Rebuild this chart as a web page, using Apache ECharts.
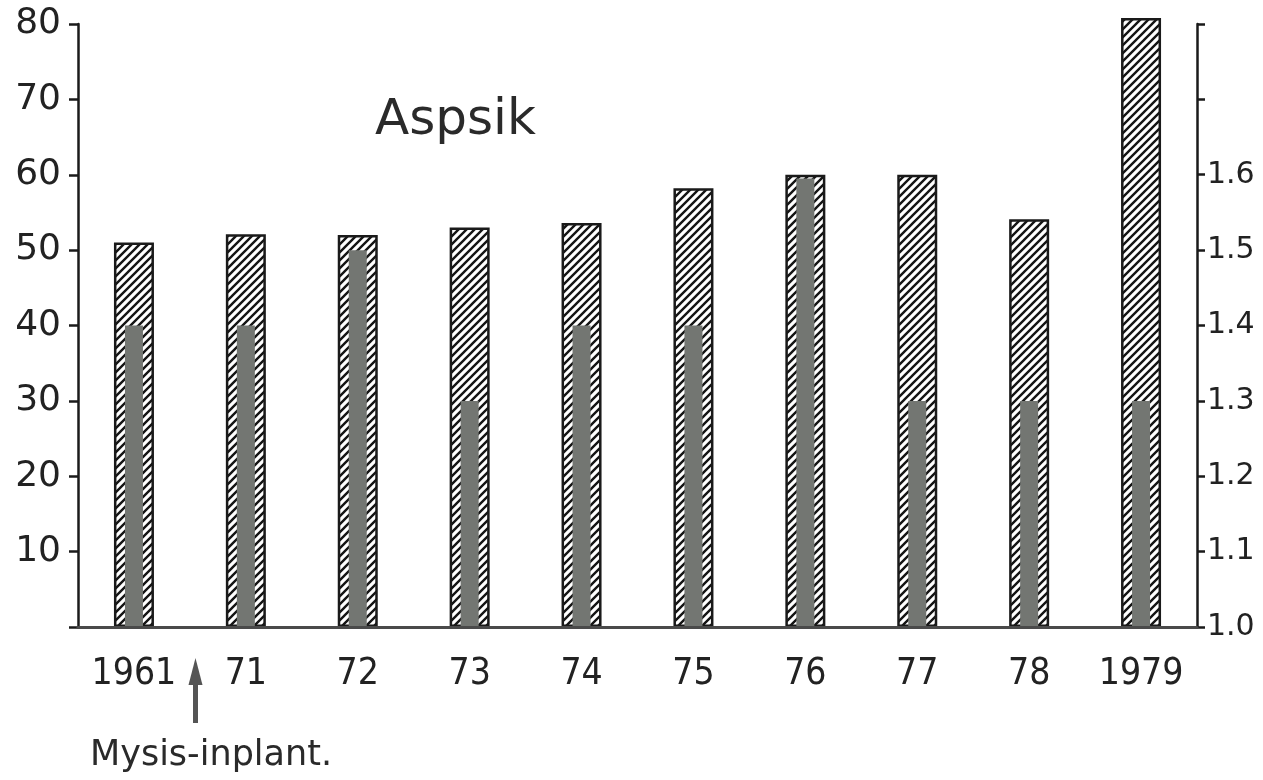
<!DOCTYPE html>
<html>
<head>
<meta charset="utf-8">
<script src="https://cdn.jsdelivr.net/npm/echarts@6/dist/echarts.min.js"></script>
<style>
html,body{margin:0;padding:0;background:#fff;}
#main{width:1263px;height:780px;}
</style>
</head>
<body>
<div id="main"></div>
<script>
// ---- data ----
const categories = ['1961', '71', '72', '73', '74', '75', '76', '77', '78', '1979'];
const outerValues = [51.0, 52.1, 52.0, 53.0, 53.6, 58.2, 60.0, 60.0, 54.1, 80.8];   // left axis (hatched bars)
const innerValues = [1.40, 1.40, 1.50, 1.30, 1.40, 1.40, 1.595, 1.30, 1.30, 1.30]; // right axis (dark bars)
const leftTicks = [10, 20, 30, 40, 50, 60, 70, 80];
const rightTickLabels = ['1.0', '1.1', '1.2', '1.3', '1.4', '1.5', '1.6'];
const titleText = 'Aspsik';
const noteText = 'Mysis-inplant.';

function hatch() {
  const s = 8;
  const c = document.createElement('canvas');
  c.width = s; c.height = s;
  const g = c.getContext('2d');
  g.fillStyle = '#ffffff';
  g.fillRect(0, 0, s, s);
  g.strokeStyle = '#141414';
  g.lineWidth = 2.4;
  g.beginPath();
  g.moveTo(-1, s + 1); g.lineTo(s + 1, -1);
  g.moveTo(-1, 1); g.lineTo(1, -1);
  g.moveTo(s - 1, s + 1); g.lineTo(s + 1, s - 1);
  g.stroke();
  return c;
}

const chart = echarts.init(document.getElementById('main'), null, {renderer: 'canvas'});
const labelFont = 'DejaVu Sans';

chart.setOption({
  backgroundColor: '#ffffff',
  animation: false,
  grid: {left: 78, right: 66, top: 24, bottom: 153, containLabel: false},
  xAxis: [
    {
      type: 'category', data: categories, position: 'bottom',
      axisLine: {lineStyle: {color: '#4a4a4a', width: 3}},
      axisTick: {show: false},
      axisLabel: {interval: 0, fontFamily: 'Liberation Sans Narrow, DejaVu Sans Condensed, Roboto Condensed, sans-serif', fontSize: 37, color: '#222', margin: 29},
      z: 5
    },
    {type: 'category', data: categories, show: false}
  ],
  yAxis: [
    {
      type: 'value', min: 0, max: 80, interval: 10, position: 'left',
      axisLine: {show: true, lineStyle: {color: '#1a1a1a', width: 2.5}},
      axisTick: {show: true, length: 9, lineStyle: {color: '#1a1a1a', width: 2.5}},
      splitLine: {show: false},
      axisLabel: {
        fontFamily: labelFont, fontSize: 36, color: '#222', margin: 17,
        formatter: v => (leftTicks.indexOf(v) >= 0 ? String(v) : '')
      }
    },
    {
      type: 'value', min: 1.0, max: 1.8, interval: 0.1, position: 'right',
      axisLine: {show: true, lineStyle: {color: '#1a1a1a', width: 2.5}},
      axisTick: {show: true, length: 8, lineStyle: {color: '#1a1a1a', width: 2.5}},
      splitLine: {show: false},
      axisLabel: {
        fontFamily: labelFont, fontSize: 30, color: '#222', margin: 10,
        formatter: v => {
          const s = Number(v).toFixed(1);
          return rightTickLabels.indexOf(s) >= 0 ? s : '';
        }
      }
    }
  ],
  series: [
    {
      name: 'outer', type: 'bar', xAxisIndex: 0, yAxisIndex: 0,
      data: outerValues, barWidth: 40, clip: false, z: 2,
      itemStyle: {color: {image: hatch(), repeat: 'repeat'}, borderColor: '#1a1a1a', borderWidth: 2.5}
    },
    {
      name: 'inner', type: 'bar', xAxisIndex: 1, yAxisIndex: 1,
      data: innerValues, barWidth: 18, z: 3,
      itemStyle: {color: '#737672'}
    }
  ]
});

// annotations
const x0 = chart.convertToPixel({xAxisIndex: 0}, categories[0]);
const x1 = chart.convertToPixel({xAxisIndex: 0}, categories[1]);
const ax = x0 + (x1 - x0) * 0.55;
chart.setOption({
  graphic: [
    {type: 'text', left: 375, top: 96, style: {text: titleText, font: '50px DejaVu Sans', fill: '#2a2a2a'}},
    {type: 'polygon', shape: {points: [[ax, 658], [ax - 7, 685], [ax + 7, 685]]}, style: {fill: '#555'}},
    {type: 'rect', shape: {x: ax - 2.5, y: 683, width: 5, height: 40}, style: {fill: '#555'}},
    {type: 'text', left: 90, top: 738, style: {text: noteText, font: '35px DejaVu Sans', fill: '#2a2a2a'}}
  ]
});
</script>
</body>
</html>
